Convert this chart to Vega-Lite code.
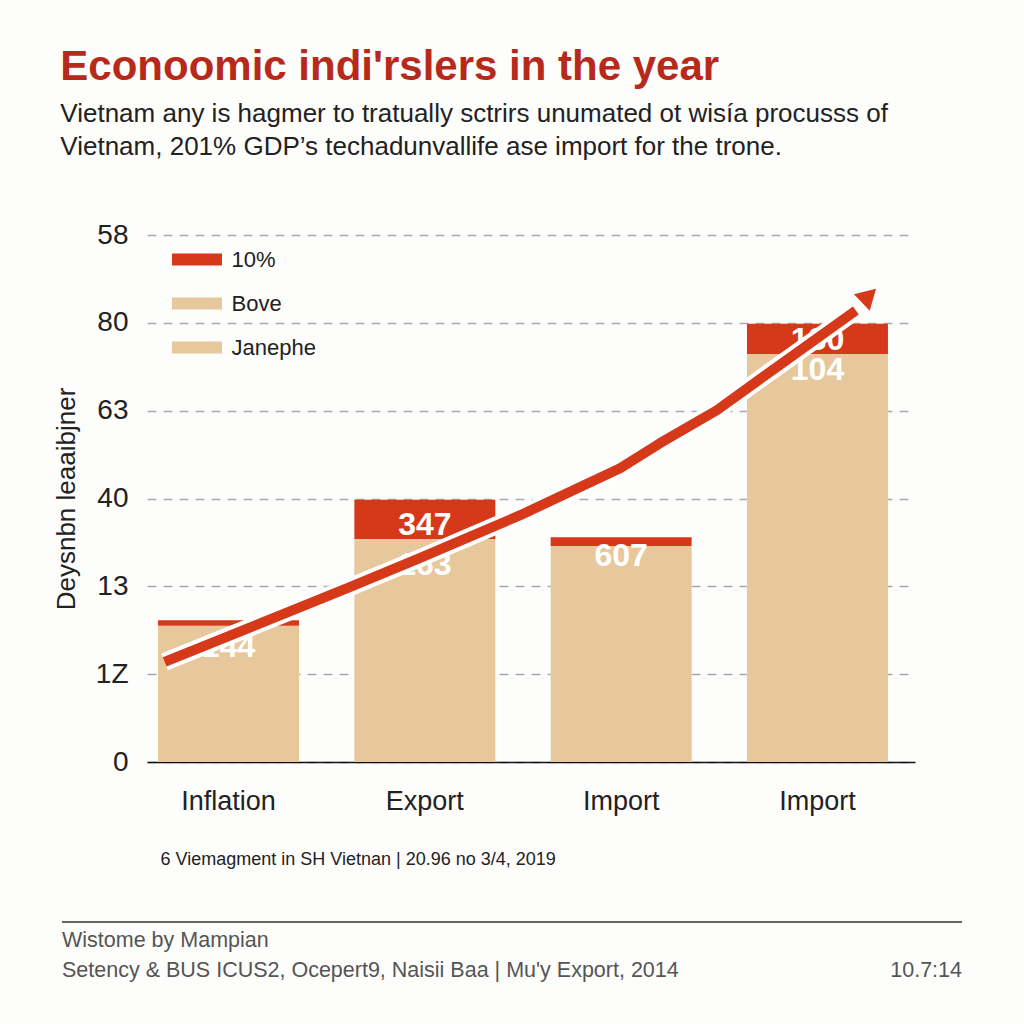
{
  "$schema": "https://vega.github.io/schema/vega-lite/v6.json",
  "background": "#fdfdfc",
  "padding": {"left": 53, "top": 46, "right": 62, "bottom": 45},
  "config": {
    "font": "Liberation Sans",
    "view": {"stroke": null},
    "concat": {"spacing": 53}
  },
  "vconcat": [
    {
      "width": 768,
      "height": 527,
      "title": {
        "text": "Econoomic indi'rslers in the year",
        "subtitle": ["Vietnam any is hagmer to tratually sctrirs unumated ot wisía procusss of", "Vietnam, 201% GDP’s techadunvallife ase import for the trone."],
        "anchor": "start",
        "dx": 7,
        "fontSize": 42,
        "fontWeight": "bold",
        "color": "#B72A1B",
        "subtitleFontSize": 26,
        "subtitleColor": "#222222",
        "subtitleLineHeight": 33,
        "subtitlePadding": 12,
        "offset": 60
      },
      "resolve": {"scale": {"x": "independent"}},
      "layer": [
        {
          "layer": [
            {
              "data": {"values": [
                {"cat": "Inflation", "seg": "Bove", "value": 31.0},
                {"cat": "Inflation", "seg": "10%", "value": 1.3},
                {"cat": "Export", "seg": "Bove", "value": 50.8},
                {"cat": "Export", "seg": "10%", "value": 8.9},
                {"cat": "Import", "seg": "Bove", "value": 49.2},
                {"cat": "Import", "seg": "10%", "value": 2.0},
                {"cat": "Import ", "seg": "Bove", "value": 92.9},
                {"cat": "Import ", "seg": "10%", "value": 6.9}
              ]},
              "mark": {"type": "bar"},
              "encoding": {
                "x": {
                  "field": "cat", "type": "nominal",
                  "sort": ["Inflation", "Export", "Import", "Import "],
                  "scale": {"paddingInner": 0.282, "paddingOuter": 0.097, "align": 0.29},
                  "axis": {
                    "title": "6 Viemagment in SH Vietnan | 20.96 no 3/4, 2019",
                    "titleAnchor": "start", "titleAlign": "left", "titleX": 13,
                    "titleFontSize": 18, "titleFontWeight": "normal", "titleColor": "#222222",
                    "titlePadding": 36,
                    "labelAngle": 0, "labelFontSize": 27, "labelColor": "#222222", "labelPadding": 26,
                    "ticks": false, "domainColor": "#111111", "domainWidth": 1.5, "grid": false
                  }
                },
                "y": {
                  "field": "value", "type": "quantitative", "stack": "zero",
                  "scale": {"domain": [0, 120], "nice": false},
                  "axis": {
                    "title": "Deysnbn leaaibjner",
                    "titleFontSize": 26, "titleFontWeight": "normal", "titleColor": "#222222", "titlePadding": 16,
                    "values": [0, 20, 40, 60, 80, 100, 120],
                    "labelExpr": "datum.value == 0 ? '0' : datum.value == 20 ? '1Z' : datum.value == 40 ? '13' : datum.value == 60 ? '40' : datum.value == 80 ? '63' : datum.value == 100 ? '80' : '58'",
                    "labelFontSize": 28, "labelColor": "#222222", "labelPadding": 19,
                    "ticks": false, "domain": false,
                    "grid": true, "gridColor": "#aaaaaa", "gridDash": [9, 7], "gridWidth": 1.5
                  }
                },
                "color": {
                  "field": "seg", "type": "nominal",
                  "scale": {"domain": ["10%", "Bove", "Janephe"], "range": ["#D5391A", "#E7C89C", "#E7C89C"]},
                  "legend": {
                    "title": null, "orient": "none", "legendX": 28.5, "legendY": 3,
                    "symbolType": "M-1.163,-0.279H1.163V0.279H-1.163Z", "symbolSize": 1849,
                    "symbolStrokeWidth": 0, "labelFontSize": 22, "labelColor": "#222222",
                    "labelOffset": 13, "rowPadding": 11, "padding": 0
                  }
                },
                "order": {"field": "seg", "sort": "descending"}
              }
            },
            {
              "data": {"values": [
                {"cat": "Inflation", "label": "144", "v": 26.2},
                {"cat": "Export", "label": "347", "v": 54.0},
                {"cat": "Export", "label": "163", "v": 44.9},
                {"cat": "Import", "label": "607", "v": 46.9},
                {"cat": "Import ", "label": "180", "v": 96.1},
                {"cat": "Import ", "label": "104", "v": 89.3}
              ]},
              "mark": {"type": "text", "color": "#ffffff", "fontSize": 32, "fontWeight": "bold", "baseline": "middle"},
              "encoding": {
                "x": {"field": "cat", "type": "nominal", "sort": ["Inflation", "Export", "Import", "Import "]},
                "y": {"field": "v", "type": "quantitative"},
                "text": {"field": "label"}
              }
            }
          ]
        },
        {
          "layer": [
            {
              "data": {"name": "trend", "values": [
                {"t": 2.3, "v": 22.8},
                {"t": 26.4, "v": 39.8},
                {"t": 35.5, "v": 46.4},
                {"t": 48.6, "v": 56.2},
                {"t": 61.6, "v": 66.9},
                {"t": 66.8, "v": 72.6},
                {"t": 74.2, "v": 80.1},
                {"t": 81.5, "v": 89.3},
                {"t": 92.3, "v": 102.8}
              ]},
              "layer": [
                {
                  "mark": {"type": "line", "color": "#ffffff", "strokeWidth": 18, "strokeCap": "butt", "strokeJoin": "round"},
                  "encoding": {
                    "x": {"field": "t", "type": "quantitative", "scale": {"domain": [0, 100]}, "axis": null},
                    "y": {"field": "v", "type": "quantitative"}
                  }
                },
                {
                  "mark": {"type": "line", "color": "#D5391A", "strokeWidth": 10, "strokeCap": "butt", "strokeJoin": "round"},
                  "encoding": {
                    "x": {"field": "t", "type": "quantitative", "scale": {"domain": [0, 100]}, "axis": null},
                    "y": {"field": "v", "type": "quantitative"}
                  }
                }
              ]
            },
            {
              "data": {"values": [{"t": 94.0, "v": 106.2}]},
              "mark": {"type": "point", "shape": "triangle-up", "filled": true, "color": "#D5391A", "size": 520, "angle": 46, "opacity": 1},
              "encoding": {
                "x": {"field": "t", "type": "quantitative", "scale": {"domain": [0, 100]}, "axis": null},
                "y": {"field": "v", "type": "quantitative"}
              }
            }
          ]
        }
      ]
    },
    {
      "width": 815,
      "height": 30,
      "layer": [
        {
          "data": {"values": [{"a": 0, "b": 1}]},
          "mark": {"type": "rule", "color": "#333333", "strokeWidth": 1.5, "yOffset": -19},
          "encoding": {
            "x": {"field": "a", "type": "quantitative", "scale": {"domain": [0, 1], "range": [-85, 815]}, "axis": null},
            "x2": {"field": "b"},
            "y": {"datum": "a", "type": "ordinal", "scale": {"type": "point", "domain": ["a", "b"], "padding": 0}, "axis": null}
          }
        },
        {
          "data": {"values": [
            {"row": "a", "text": "Wistome by Mampian"},
            {"row": "b", "text": "Setency & BUS ICUS2, Ocepert9, Naisii Baa | Mu'y Export, 2014"}
          ]},
          "mark": {"type": "text", "align": "left", "baseline": "middle", "fontSize": 21.5, "color": "#555555"},
          "encoding": {
            "x": {"datum": 0, "type": "quantitative", "scale": {"domain": [0, 1], "range": [-85, 815]}, "axis": null},
            "y": {"field": "row", "type": "ordinal", "scale": {"type": "point", "domain": ["a", "b"], "padding": 0}, "axis": null},
            "text": {"field": "text"}
          }
        },
        {
          "data": {"values": [{"row": "b", "text": "10.7:14"}]},
          "mark": {"type": "text", "align": "right", "baseline": "middle", "fontSize": 21.5, "color": "#555555"},
          "encoding": {
            "x": {"datum": 1, "type": "quantitative", "scale": {"domain": [0, 1], "range": [-85, 815]}, "axis": null},
            "y": {"field": "row", "type": "ordinal", "scale": {"type": "point", "domain": ["a", "b"], "padding": 0}, "axis": null},
            "text": {"field": "text"}
          }
        }
      ]
    }
  ]
}
